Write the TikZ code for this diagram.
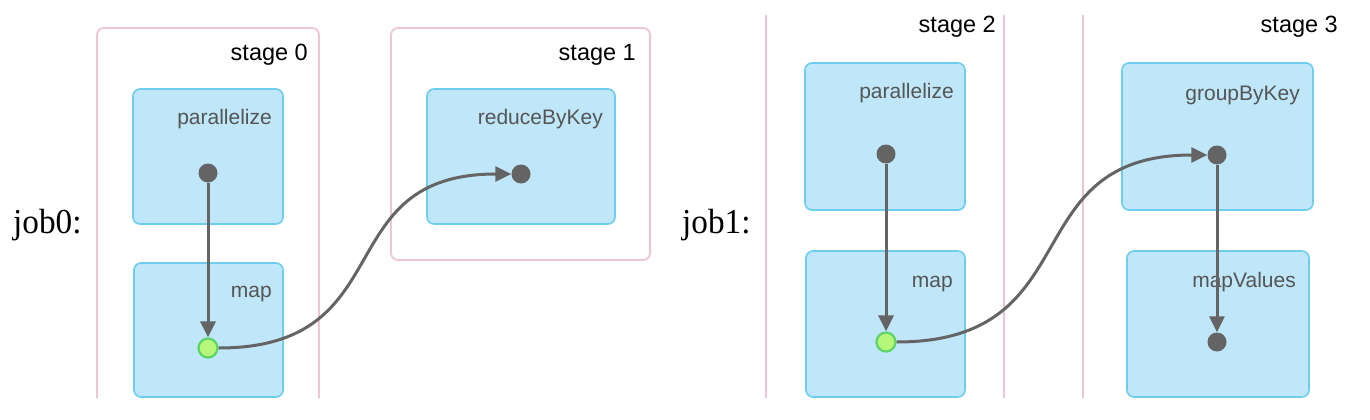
\documentclass[tikz,border=0pt]{standalone}
\usepackage{fontspec}
\usepackage{graphicx}
\setmainfont{Liberation Serif}
\setsansfont{Liberation Sans}
\usetikzlibrary{arrows.meta}
\definecolor{boxfill}{HTML}{BFE7F9}
\definecolor{boxline}{HTML}{6CCDEC}
\definecolor{stageline}{HTML}{EEC6D3}
\definecolor{dotgray}{HTML}{646464}
\definecolor{lblgray}{HTML}{555555}
\definecolor{greenfill}{HTML}{B6F77A}
\definecolor{greenline}{HTML}{5ED468}
\begin{document}
\begin{tikzpicture}[x=1pt,y=-1pt,
 opbox/.style={draw=boxline, fill=boxfill, line width=1.6pt, rounded corners=7pt, inner sep=0pt},
 stageframe/.style={draw=stageline, line width=1.8pt, rounded corners=7pt},
 stagetxt/.style={font=\sffamily\fontsize{23.5}{27}\selectfont, text=black, anchor=base east, inner sep=0pt},
 optxt/.style={font=\sffamily\fontsize{21}{25}\selectfont, text=lblgray, anchor=base east, inner sep=0pt},
 dotnode/.style={circle, fill=dotgray, minimum size=19pt, inner sep=0pt},
 outdot/.style={circle, fill=greenfill, draw=greenline, line width=2.2pt, minimum size=19pt, inner sep=0pt},
 conn/.style={draw=dotgray, line width=3pt, -{Triangle[length=16pt,width=15pt]}},
 jobtxt/.style={font=\rmfamily\fontsize{35}{40}\selectfont, anchor=base west, inner sep=0pt}
]
\useasboundingbox[fill=white] (0,0) rectangle (1370,420);

% stage frames
\draw[stageframe] (97,398) -- (97,28) -- (319,28) -- (319,398);
\draw[stageframe] (391,28) rectangle (650,260);
\draw[draw=stageline, line width=1.8pt] (766,15) -- (766,398);
\draw[draw=stageline, line width=1.8pt] (1004,15) -- (1004,398);
\draw[draw=stageline, line width=1.8pt] (1083,15) -- (1083,398);

% stage labels
\node[stagetxt] (s0) at (308,60) {stage 0};
\node[stagetxt] (s1) at (636,60) {stage 1};
\node[stagetxt] (s2) at (996,33) {stage 2};
\node[stagetxt] (s3) at (1338,33) {stage 3};

% job labels
\node[jobtxt] (j0) at (13,233) {\scalebox{0.95}[1]{job0:}};
\node[jobtxt] (j1) at (682,233) {\scalebox{0.95}[1]{job1:}};

% operation boxes
\node[opbox, minimum width=150pt, minimum height=135pt] (p0) at (208,156.5) {};
\node[opbox, minimum width=149pt, minimum height=134pt] (m0) at (208.5,330) {};
\node[opbox, minimum width=188pt, minimum height=135pt] (r0) at (521,156.5) {};
\node[opbox, minimum width=160pt, minimum height=147pt] (p1) at (885,136.5) {};
\node[opbox, minimum width=159pt, minimum height=146pt] (m1) at (885.5,324) {};
\node[opbox, minimum width=191pt, minimum height=147pt] (g1) at (1217.5,136.5) {};
\node[opbox, minimum width=182pt, minimum height=146pt] (v1) at (1218,324) {};

% operation labels
\node[optxt] (lp0) at (272,124) {parallelize};
\node[optxt] (lm0) at (272,297) {map};
\node[optxt] (lr0) at (603,124) {reduceByKey};
\node[optxt] (lp1) at (954,98) {parallelize};
\node[optxt] (lm1) at (953,287) {map};
\node[optxt] (lg1) at (1300,100) {groupByKey};
\node[optxt] (lv1) at (1296,287) {mapValues};

% dots
\node[dotnode] (dp0) at (208,173) {};
\node[outdot] (dm0) at (208,348) {};
\node[dotnode] (dr0) at (521,174) {};
\node[dotnode] (dp1) at (886,154) {};
\node[outdot] (dm1) at (886,342) {};
\node[dotnode] (dg1) at (1217,155) {};
\node[dotnode] (dv1) at (1217,342) {};

% connectors
\draw[conn] (dp0.south) -- (dm0.north);
\draw[conn] (dm0.east) .. controls +(185,0) and +(-185,0) .. (dr0.west);
\draw[conn] (dp1.south) -- (dm1.north);
\draw[conn] (dm1.east) .. controls +(195,0) and +(-195,0) .. (dg1.west);
\draw[conn] (dg1.south) -- (dv1.north);
\end{tikzpicture}
\end{document}
